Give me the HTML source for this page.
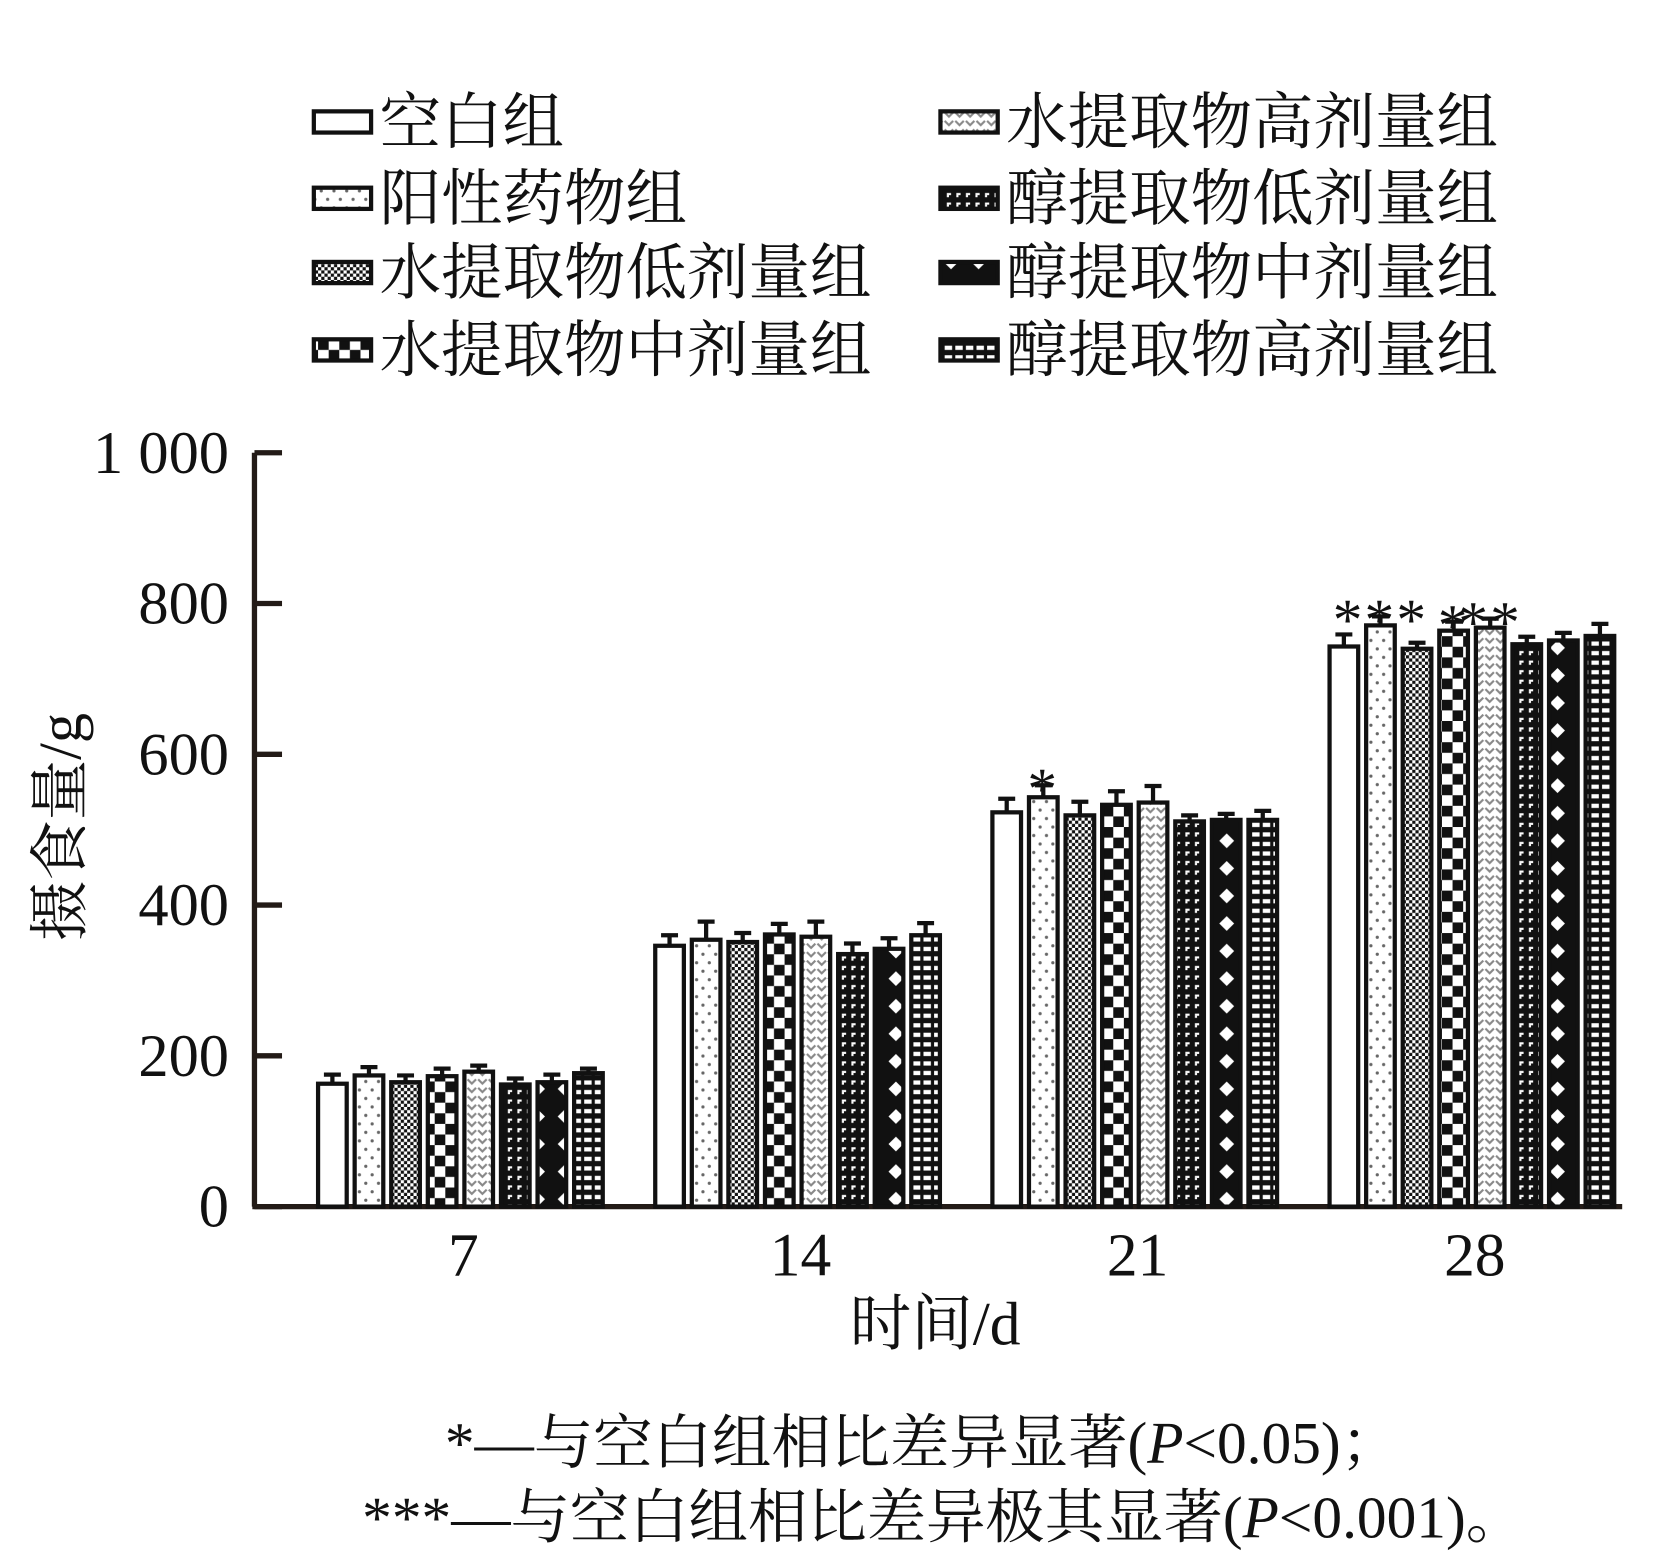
<!DOCTYPE html>
<html><head><meta charset="utf-8"><style>
html,body{margin:0;padding:0;background:#fff;}
svg{display:block;}
text{font-family:"Liberation Serif","Noto Serif CJK SC","Noto Sans CJK SC",serif;fill:#111;}
</style></head><body>
<svg id="chart" width="1654" height="1565" viewBox="0 0 1560 1476" xmlns="http://www.w3.org/2000/svg">
<defs>
<pattern id="p0" width="10" height="10" patternUnits="userSpaceOnUse"><rect width="10" height="10" fill="#fff"/></pattern>
<pattern id="p1" width="12" height="16" patternUnits="userSpaceOnUse"><rect width="12" height="16" fill="#fff"/><circle cx="3" cy="4" r="1.5" fill="#666"/><circle cx="9" cy="12" r="1.5" fill="#666"/></pattern>
<pattern id="p2" width="6" height="6" patternUnits="userSpaceOnUse"><rect width="6" height="6" fill="#fff"/><rect width="3" height="3" fill="#111"/><rect x="3" y="3" width="3" height="3" fill="#111"/></pattern>
<pattern id="p3" width="20" height="20" patternUnits="userSpaceOnUse"><rect width="20" height="20" fill="#fff"/><rect width="10" height="10" fill="#111"/><rect x="10" y="10" width="10" height="10" fill="#111"/></pattern>
<pattern id="p4" width="10" height="8" patternUnits="userSpaceOnUse"><rect width="10" height="8" fill="#fff"/><path d="M1 2 L5 6 L9 2" stroke="#888" stroke-width="2" fill="none"/></pattern>
<pattern id="p5" width="9" height="9" patternUnits="userSpaceOnUse"><rect width="9" height="9" fill="#111"/><rect x="2" y="2" width="4" height="2" fill="#fff"/><rect x="2" y="4" width="2" height="2" fill="#fff"/></pattern>
<pattern id="p6" width="26" height="26" patternUnits="userSpaceOnUse"><rect width="26" height="26" fill="#111"/><path d="M13 6 L20 13 L13 20 L6 13 Z" fill="#fff"/></pattern>
<pattern id="p7" width="10" height="9" patternUnits="userSpaceOnUse"><rect width="10" height="9" fill="#111"/><rect x="1" y="2" width="7" height="4" fill="#fff"/></pattern>
</defs>
<g id="legend"></g>
<g id="axes"></g>
<g id="bars"></g>
<text transform="translate(76,780) rotate(-90)" text-anchor="middle" font-size="57">摄食量/g</text>
<text x="882" y="1268" text-anchor="middle" font-size="58">时间/d</text>
<text x="870" y="1380" text-anchor="middle" font-size="56">*—与空白组相比差异显著(<tspan font-style="italic">P</tspan>&lt;0.05)；</text>
<text x="890" y="1450" text-anchor="middle" font-size="56">***—与空白组相比差异极其显著(<tspan font-style="italic">P</tspan>&lt;0.001)。</text>
</svg>
<script>
const categories = ["7","14","21","28"];
const seriesNames = ["空白组","阳性药物组","水提取物低剂量组","水提取物中剂量组","水提取物高剂量组","醇提取物低剂量组","醇提取物中剂量组","醇提取物高剂量组"];
const day7 = [163,174,165,173,179,162,165,177];
const day14 = [346,354,351,361,358,335,342,360];
const day21 = [523,543,519,533,536,511,513,513];
const day28 = [743,771,740,764,768,746,751,757];
const err7 = [12,11,9,10,8,8,10,6];
const err14 = [14,24,12,14,20,14,14,16];
const err21 = [18,16,18,18,22,8,8,12];
const err28 = [16,12,8,12,12,10,10,16];
const sig21 = ["","*","","","","","",""];
const sig28 = ["","***","","*","**","","",""];
const yTicks = [0,200,400,600,800,1000];
const yTickLabels = ["0","200","400","600","800","1 000"];

const NS = "http://www.w3.org/2000/svg";
const X0 = 240, Y0 = 1138, YT = 427, XEND = 1530;
const y = v => Y0 - (v / 1000) * (Y0 - YT);
const groupStart = i => 300 + i * 318;
const barX = (g, s) => groupStart(g) + s * 34.5;
const BW = 27;
function mk(tag, attrs, parent) { const e = document.createElementNS(NS, tag); for (const k in attrs) e.setAttribute(k, attrs[k]); parent.appendChild(e); return e; }

const axes = document.getElementById('axes');
const yAxis = mk('line', {x1: X0, y1: YT, x2: X0, y2: Y0, stroke: '#231b17', 'stroke-width': 5}, axes);


const xAxis = mk('line', {x1: X0 - 2, y1: Y0, x2: XEND, y2: Y0, stroke: '#231b17', 'stroke-width': 5}, axes);


yTicks.forEach((t, i) => {
  const tk = mk('line', {x1: X0, y1: y(t), x2: X0 + 26, y2: y(t), stroke: '#231b17', 'stroke-width': 5}, axes);
  
  
  const lb = mk('text', {x: 216, y: y(t) + 19, 'text-anchor': 'end', 'font-size': 57}, axes);
  lb.textContent = yTickLabels[i];
  
  
});
categories.forEach((c, g) => {
  const lb = mk('text', {x: groupStart(g) + 137, y: 1203, 'text-anchor': 'middle', 'font-size': 58}, axes);
  lb.textContent = c;
  
  
});

const bars = document.getElementById('bars');
const vals = [day7, day14, day21, day28];
const errs = [err7, err14, err21, err28];
const sigs = [null, null, sig21, sig28];
vals.forEach((arr, g) => {
  arr.forEach((v, s) => {
    const x = barX(g, s), top = y(v), et = y(v + errs[g][s]);
    const cx = x + BW / 2;
    const eb = mk('path', {d: `M${cx} ${top} L${cx} ${et} M${cx - 8} ${et} L${cx + 8} ${et}`, stroke: '#111', 'stroke-width': 4, fill: 'none'}, bars);
    
    
    const r = mk('rect', {x: x, y: top, width: BW, height: Y0 - top, fill: `url(#p${s})`, stroke: '#111', 'stroke-width': 4}, bars);
    
    
    if (sigs[g] && sigs[g][s]) {
      const t = mk('text', {x: cx, y: et + 22, 'text-anchor': 'middle', 'font-size': 56, 'letter-spacing': '2'}, bars);
      t.textContent = sigs[g][s];
      
      
    }
  });
});

const legend = document.getElementById('legend');
const rowsY = [115, 187, 257, 330];
seriesNames.forEach((n, i) => {
  const col = i < 4 ? 0 : 1, row = i % 4;
  const sx = col ? 887 : 296, ty = rowsY[row];
  const sw = mk('rect', {x: sx, y: ty - 10, width: 54, height: 20, fill: `url(#p${i})`, stroke: '#111', 'stroke-width': 4}, legend);
  
  
  const t = mk('text', {x: sx + 62, y: ty + 20, 'font-size': 58}, legend);
  t.textContent = n;
  
  
});
</script>
</body></html>
